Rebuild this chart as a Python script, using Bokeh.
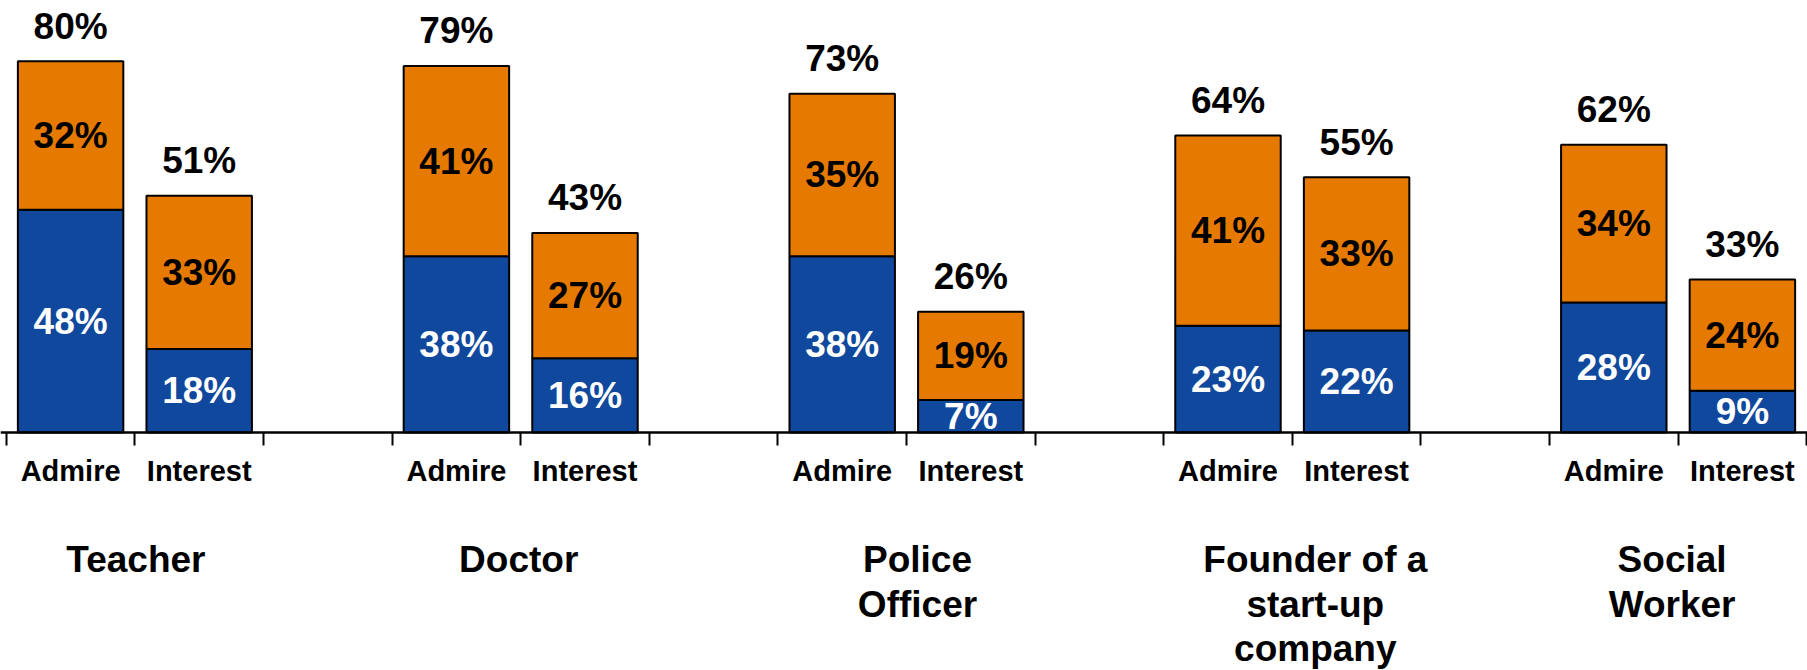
from bokeh.plotting import figure
from bokeh.models import Range1d, FixedTicker, LinearAxis, ColumnDataSource
from bokeh.core.properties import value
from bokeh.embed import file_html
from bokeh.resources import INLINE

# ---------------- data ----------------
groups = ["Teacher", "Doctor", "Police\nOfficer", "Founder of a\nstart-up\ncompany", "Social\nWorker"]
measures = ["Admire", "Interest"]
# values per group, in the order [Admire, Interest]
blue_vals = [[48, 18], [38, 16], [38, 7], [23, 22], [28, 9]]
orange_vals = [[32, 33], [41, 27], [35, 19], [41, 33], [34, 24]]
total_vals = [[80, 51], [79, 43], [73, 26], [64, 55], [62, 33]]

# ---------------- style ----------------
BLUE = "#0F489C"
ORANGE = "#E67A00"
FONT = value("Liberation Sans")
SLOTS_PER_GROUP = 3          # Admire, Interest, gap
PX_PER_PCT = 4.64
AXIS_Y_PX = 432              # distance of axis from frame top
FIG_W, FIG_H = 1807, 670
SLOT_PX = 128.6
FIRST_TICK_PX = 5.8
group_label_nudge_px = [1, -2, 11, 23, -6]

n_slots = SLOTS_PER_GROUP * len(groups) - 1

# build sources
bx, bblue, borange, btotal = [], [], [], []
blue_txt, orange_txt = [], []
mx, mtext = [], []
for g in range(len(groups)):
    for m in range(len(measures)):
        x = g * SLOTS_PER_GROUP + m + 0.5
        b = blue_vals[g][m]
        o = orange_vals[g][m]
        t = total_vals[g][m]
        bx.append(x)
        bblue.append(b)
        borange.append(b + o)
        btotal.append(t)
        blue_txt.append(f"{b}%")
        orange_txt.append(f"{o}%")
        mx.append(x)
        mtext.append(measures[m])

bars = ColumnDataSource(dict(
    x=bx, blue=bblue, top=borange, total=btotal,
    blue_mid=[b / 2 for b in bblue],
    orange_mid=[(b + t) / 2 for b, t in zip(bblue, borange)],
    blue_txt=blue_txt, orange_txt=orange_txt,
    total_txt=[f"{t}%" for t in btotal],
))

gx, gy_off, gtext, gnudge = [], [], [], []
for g, name in enumerate(groups):
    for j, line in enumerate(name.split("\n")):
        gx.append(g * SLOTS_PER_GROUP + 1)
        gy_off.append(127 + 44.5 * j)
        gtext.append(line)
        gnudge.append(group_label_nudge_px[g])
grp = ColumnDataSource(dict(x=gx, y=[0] * len(gx), yo=gy_off, text=gtext, xo=gnudge))
meas = ColumnDataSource(dict(x=mx, y=[0] * len(mx), text=mtext))

y_end = AXIS_Y_PX / PX_PER_PCT
y_start = -(FIG_H - AXIS_Y_PX) / PX_PER_PCT
x_start = -FIRST_TICK_PX / SLOT_PX
x_end = x_start + FIG_W / SLOT_PX

p = figure(width=FIG_W, height=FIG_H,
           x_range=Range1d(x_start, x_end), y_range=Range1d(y_start, y_end),
           output_backend="svg", toolbar_location=None,
           x_axis_location=None, y_axis_location=None,
           min_border=0, min_border_left=0, min_border_right=0,
           min_border_top=0, min_border_bottom=0,
           outline_line_color=None, background_fill_color="white")
p.xgrid.visible = False
p.ygrid.visible = False

W = 0.82
p.vbar(x="x", bottom=0, top="blue", width=W, source=bars,
       fill_color=BLUE, line_color="black", line_width=2)
p.vbar(x="x", bottom="blue", top="top", width=W, source=bars,
       fill_color=ORANGE, line_color="black", line_width=2)

common = dict(text_font=FONT, text_font_style="bold", text_align="center",
              text_baseline="middle")
p.text(x="x", y="blue_mid", text="blue_txt", source=bars, text_color="white",
       text_font_size="37px", **common)
p.text(x="x", y="orange_mid", text="orange_txt", source=bars, text_color="black",
       text_font_size="37px", **common)
p.text(x="x", y="total", text="total_txt", source=bars, text_color="black",
       text_font_size="37px", y_offset=-35, **common)
p.text(x="x", y="y", text="text", source=meas, text_color="black",
       text_font_size="29px", y_offset=38.3, **common)
p.text(x="x", y="y", text="text", source=grp, text_color="black",
       text_font_size="37px", y_offset="yo", x_offset="xo", **common)

ticks = list(range(n_slots + 1))
ax = LinearAxis(fixed_location=0, ticker=FixedTicker(ticks=ticks, minor_ticks=[]),
                major_tick_in=13, major_tick_out=0,
                major_label_overrides={t: "" for t in ticks},
                major_label_text_font_size="0px", major_label_standoff=0,
                axis_line_width=2.5, axis_line_color="black",
                major_tick_line_width=2, major_tick_line_color="black",
                minor_tick_line_color=None)
p.add_layout(ax, "above")

open("out.html", "w").write(file_html(p, INLINE))
